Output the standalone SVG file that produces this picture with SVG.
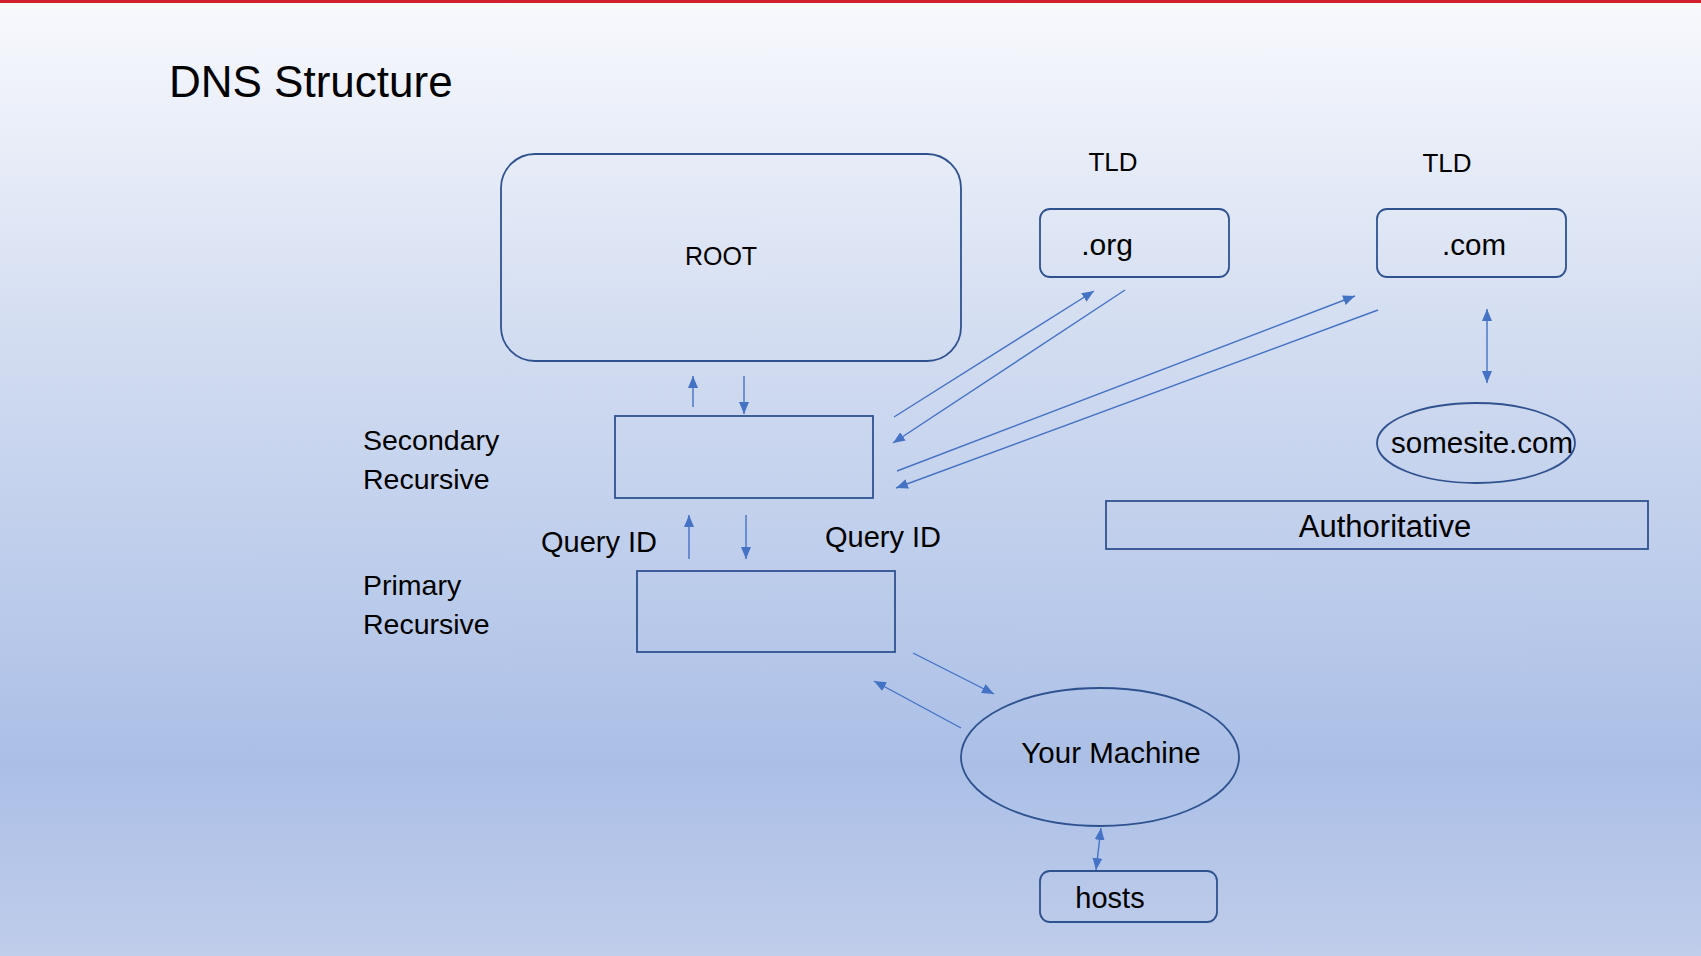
<svg xmlns="http://www.w3.org/2000/svg" width="1701" height="956" viewBox="0 0 1701 956">
<defs>
<linearGradient id="bg" x1="0" y1="0" x2="0" y2="1">
<stop offset="0" stop-color="#f8f9fd"/>
<stop offset="0.35" stop-color="#d3ddf1"/>
<stop offset="0.8" stop-color="#abbfe6"/>
<stop offset="1" stop-color="#c0cdeb"/>
</linearGradient>
<marker id="ah" viewBox="0 0 12 10" refX="12" refY="5" markerWidth="12" markerHeight="10" markerUnits="userSpaceOnUse" orient="auto-start-reverse">
<path d="M0,0 L12,5 L0,10 Z" fill="#4472c4"/>
</marker>
<style>
.box{fill:none;stroke:#2f528f;stroke-width:1.8}
.t{font-family:"Liberation Sans",Arial,sans-serif;font-size:28.5px;fill:#000}
.c{text-anchor:middle}
.ln{stroke:#4472c4;stroke-width:1.4;fill:none;marker-end:url(#ah)}
.dbl{marker-start:url(#ah)}
</style>
</defs>
<rect x="0" y="0" width="1701" height="956" fill="url(#bg)"/>
<rect x="0" y="0" width="1701" height="3" fill="#d0202e"/>
<text class="t" x="169" y="97" style="font-size:44px">DNS Structure</text>

<g id="root"><rect class="box" x="501" y="154" width="460" height="207" rx="34"/><text class="t c" x="721" y="265" style="font-size:25px">ROOT</text></g>
<g id="tld-org-label"><text class="t c" x="1113" y="171" style="font-size:26px">TLD</text></g>
<g id="tld-com-label"><text class="t c" x="1447" y="172" style="font-size:26px">TLD</text></g>
<g id="org"><rect class="box" x="1040" y="209" width="189" height="68" rx="10"/><text class="t c" x="1107" y="255" style="font-size:30px">.org</text></g>
<g id="com"><rect class="box" x="1377" y="209" width="189" height="68" rx="10"/><text class="t c" x="1474" y="255" style="font-size:29.5px">.com</text></g>
<g id="somesite"><ellipse class="box" cx="1476" cy="443" rx="99" ry="40"/><text class="t c" x="1482" y="453" style="font-size:29.5px">somesite.com</text></g>
<g id="authoritative"><rect class="box" x="1106" y="501" width="542" height="48"/><text class="t c" x="1385" y="537" style="font-size:31px">Authoritative</text></g>
<g id="secondary"><rect class="box" x="615" y="416" width="258" height="82"/><text class="t" x="363" y="450">Secondary</text><text class="t" x="363" y="489">Recursive</text></g>
<g id="primary"><rect class="box" x="637" y="571" width="258" height="81"/><text class="t" x="363" y="595">Primary</text><text class="t" x="363" y="634">Recursive</text></g>
<g id="qid-left"><text class="t c" x="599" y="552" style="font-size:29px">Query ID</text></g>
<g id="qid-right"><text class="t c" x="883" y="547" style="font-size:29px">Query ID</text></g>
<g id="machine"><ellipse class="box" cx="1100" cy="757" rx="139" ry="69"/><text class="t c" x="1111" y="763" style="font-size:29.5px">Your Machine</text></g>
<g id="hosts"><rect class="box" x="1040" y="871" width="177" height="51" rx="10"/><text class="t c" x="1110" y="908" style="font-size:29px">hosts</text></g>

<g id="connectors">
<line class="ln" x1="693" y1="407" x2="693" y2="376"/>
<line class="ln" x1="744" y1="376" x2="744" y2="414"/>
<line class="ln" x1="689" y1="559" x2="689" y2="515"/>
<line class="ln" x1="746" y1="515" x2="746" y2="559"/>
<line class="ln" x1="894" y1="417" x2="1094" y2="291"/>
<line class="ln" x1="1125" y1="290" x2="893" y2="443"/>
<line class="ln" x1="897" y1="471" x2="1355" y2="296"/>
<line class="ln" x1="1378" y1="310" x2="896" y2="488"/>
<line class="ln dbl" x1="1487" y1="309" x2="1487" y2="383"/>
<line class="ln" x1="913" y1="653" x2="994" y2="694"/>
<line class="ln" x1="961" y1="728" x2="874" y2="681"/>
<line class="ln dbl" x1="1101" y1="828" x2="1096" y2="870"/>
</g>
</svg>
